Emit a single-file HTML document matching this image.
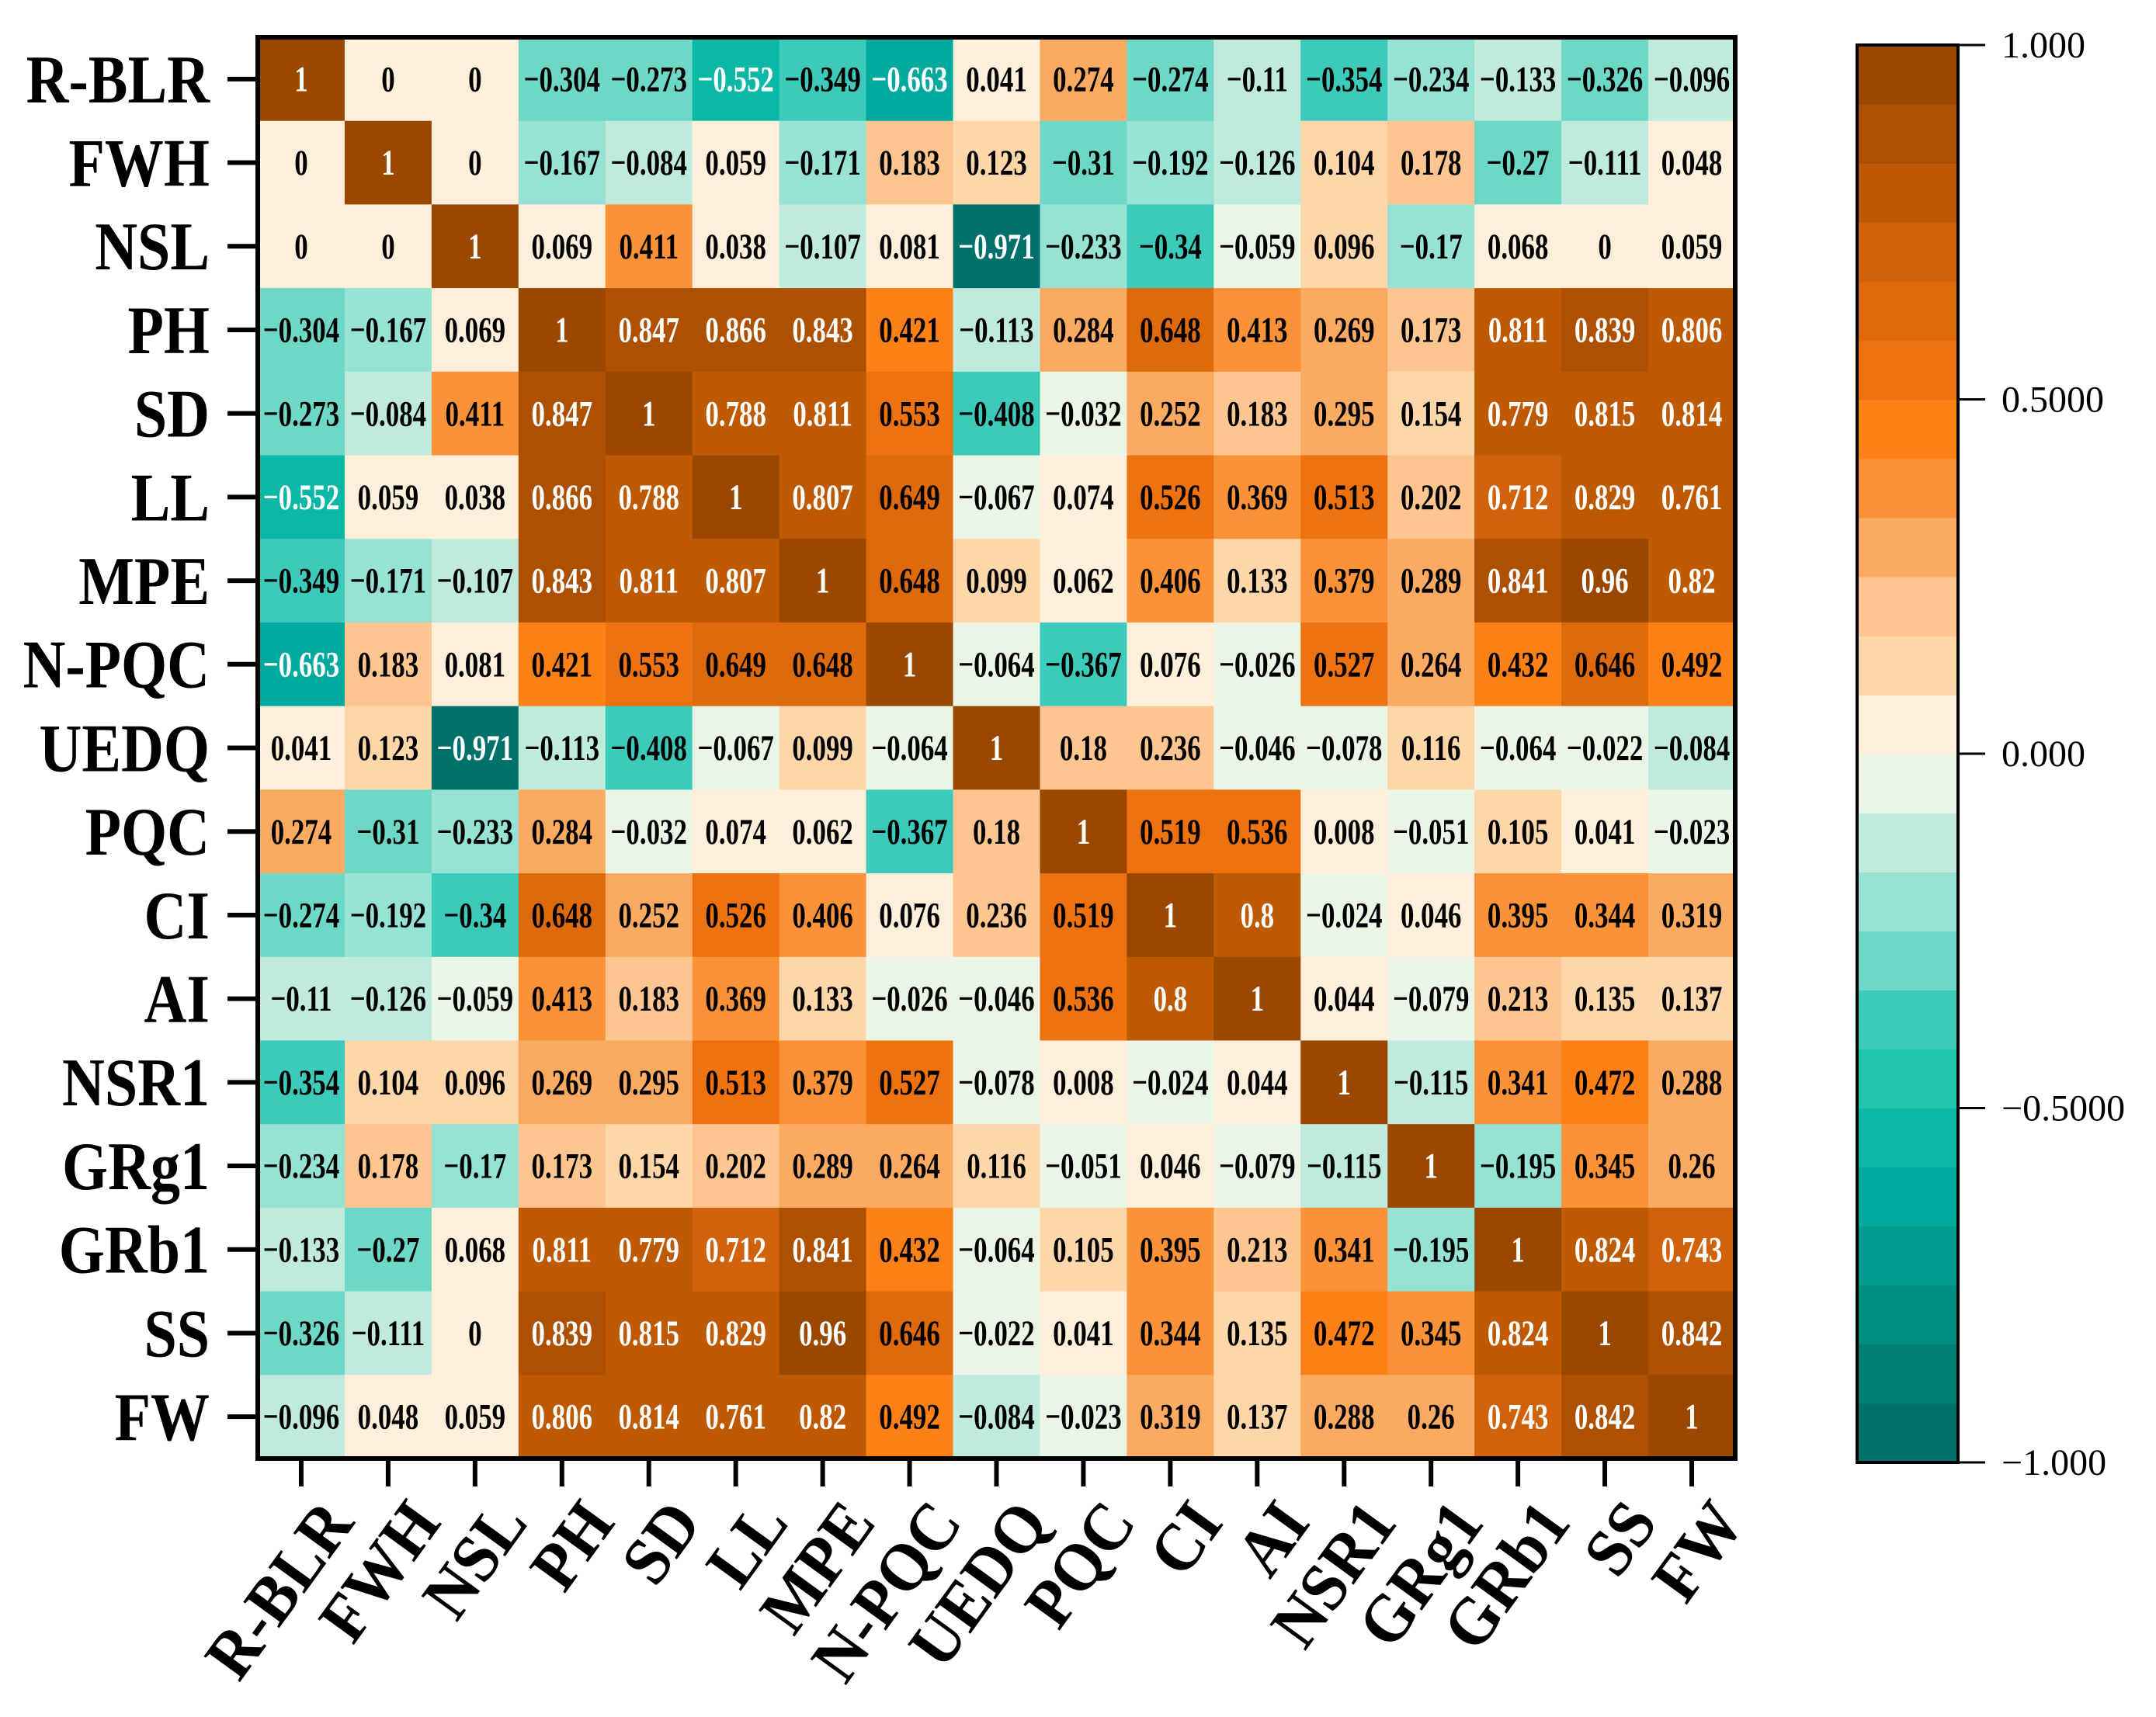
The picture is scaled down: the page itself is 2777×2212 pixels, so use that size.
<!DOCTYPE html>
<html><head><meta charset="utf-8"><style>
html,body{margin:0;padding:0;background:#fff;}
svg{display:block;font-family:"Liberation Serif",serif;}
</style></head><body>
<svg id="chart" width="2777" height="2212" viewBox="0 0 2777 2212" xmlns="http://www.w3.org/2000/svg">
<g id="cells"></g>
<g id="ylab"></g>
<g id="xlab"></g>
<g id="cbar"></g>
<rect x="332" y="48" width="1903" height="1831" fill="none" stroke="#000" stroke-width="6"/>
</svg>
<script>
const labels = ["R-BLR","FWH","NSL","PH","SD","LL","MPE","N-PQC","UEDQ","PQC","CI","AI","NSR1","GRg1","GRb1","SS","FW"];
const rowRBLR = [1,0,0,-0.304,-0.273,-0.552,-0.349,-0.663,0.041,0.274,-0.274,-0.11,-0.354,-0.234,-0.133,-0.326,-0.096];
const rowFWH = [0,1,0,-0.167,-0.084,0.059,-0.171,0.183,0.123,-0.31,-0.192,-0.126,0.104,0.178,-0.27,-0.111,0.048];
const rowNSL = [0,0,1,0.069,0.411,0.038,-0.107,0.081,-0.971,-0.233,-0.34,-0.059,0.096,-0.17,0.068,0,0.059];
const rowPH = [-0.304,-0.167,0.069,1,0.847,0.866,0.843,0.421,-0.113,0.284,0.648,0.413,0.269,0.173,0.811,0.839,0.806];
const rowSD = [-0.273,-0.084,0.411,0.847,1,0.788,0.811,0.553,-0.408,-0.032,0.252,0.183,0.295,0.154,0.779,0.815,0.814];
const rowLL = [-0.552,0.059,0.038,0.866,0.788,1,0.807,0.649,-0.067,0.074,0.526,0.369,0.513,0.202,0.712,0.829,0.761];
const rowMPE = [-0.349,-0.171,-0.107,0.843,0.811,0.807,1,0.648,0.099,0.062,0.406,0.133,0.379,0.289,0.841,0.96,0.82];
const rowNPQC = [-0.663,0.183,0.081,0.421,0.553,0.649,0.648,1,-0.064,-0.367,0.076,-0.026,0.527,0.264,0.432,0.646,0.492];
const rowUEDQ = [0.041,0.123,-0.971,-0.113,-0.408,-0.067,0.099,-0.064,1,0.18,0.236,-0.046,-0.078,0.116,-0.064,-0.022,-0.084];
const rowPQC = [0.274,-0.31,-0.233,0.284,-0.032,0.074,0.062,-0.367,0.18,1,0.519,0.536,0.008,-0.051,0.105,0.041,-0.023];
const rowCI = [-0.274,-0.192,-0.34,0.648,0.252,0.526,0.406,0.076,0.236,0.519,1,0.8,-0.024,0.046,0.395,0.344,0.319];
const rowAI = [-0.11,-0.126,-0.059,0.413,0.183,0.369,0.133,-0.026,-0.046,0.536,0.8,1,0.044,-0.079,0.213,0.135,0.137];
const rowNSR1 = [-0.354,0.104,0.096,0.269,0.295,0.513,0.379,0.527,-0.078,0.008,-0.024,0.044,1,-0.115,0.341,0.472,0.288];
const rowGRg1 = [-0.234,0.178,-0.17,0.173,0.154,0.202,0.289,0.264,0.116,-0.051,0.046,-0.079,-0.115,1,-0.195,0.345,0.26];
const rowGRb1 = [-0.133,-0.27,0.068,0.811,0.779,0.712,0.841,0.432,-0.064,0.105,0.395,0.213,0.341,-0.195,1,0.824,0.743];
const rowSS = [-0.326,-0.111,0,0.839,0.815,0.829,0.96,0.646,-0.022,0.041,0.344,0.135,0.472,0.345,0.824,1,0.842];
const rowFW = [-0.096,0.048,0.059,0.806,0.814,0.761,0.82,0.492,-0.084,-0.023,0.319,0.137,0.288,0.26,0.743,0.842,1];
const matrix = [rowRBLR,rowFWH,rowNSL,rowPH,rowSD,rowLL,rowMPE,rowNPQC,rowUEDQ,rowPQC,rowCI,rowAI,rowNSR1,rowGRg1,rowGRb1,rowSS,rowFW];
const cbarTicks = [1, 0.5, 0, -0.5, -1];
const cbarTickLabels = ["1.000","0.5000","0.000","\u22120.5000","\u22121.000"];

const palette = ["#00706a","#007e74","#008c80","#009b8c","#00a99d","#0bb7a5","#22c4ae","#3ccbbb","#6ed8c6","#96e2d4","#bfeadc","#ebf5e6",
"#fdefd9","#fdd6aa","#fdc690","#fbaa62","#fa9238","#fd8117","#ee7310","#df6a0b","#cf620a","#bd5a03","#ad5002","#9a4700"];

const NS = "http://www.w3.org/2000/svg";
const X0 = 332, X1 = 2235, Y0 = 48, Y1 = 1879;
const n = labels.length;
const cw = (X1 - X0) / n, ch = (Y1 - Y0) / n;
function xPos(i){ return X0 + i * cw; }
function yPos(j){ return Y0 + j * ch; }
function colorFor(v){ let k = Math.floor((v + 1) * 12); if (k < 0) k = 0; if (k > 23) k = 23; return palette[k]; }
function fmt(v){ return v < 0 ? "\u2212" + String(-v) : String(v); }
function mk(tag, attrs, parent){ const e = document.createElementNS(NS, tag); for (const k in attrs) e.setAttribute(k, attrs[k]); parent.appendChild(e); return e; }

const cells = document.getElementById("cells");
matrix.forEach((row, j) => {
  row.forEach((v, i) => {
    const r = mk("rect", {x: xPos(i), y: yPos(j), width: cw + 0.8, height: ch + 0.8, fill: colorFor(v)}, cells);
    
    
  });
});
matrix.forEach((row, j) => {
  row.forEach((v, i) => {
    const cx = xPos(i) + cw / 2, cy = yPos(j) + ch / 2;
    const t = mk("text", {x: 0, y: 12, "text-anchor": "middle", "font-size": 36, "font-weight": "bold", fill: (v >= 0.7 || v <= -0.5) ? "#fff" : "#000", transform: "translate(" + cx + " " + cy + ") scale(0.97 1.3)"}, cells);
    t.textContent = fmt(v);
    
    
  });
});

const ylab = document.getElementById("ylab");
labels.forEach((lab, j) => {
  const cy = yPos(j) + ch / 2;
  const tk = mk("line", {x1: 293, x2: X0, y1: cy, y2: cy, stroke: "#000", "stroke-width": 6}, ylab);
  
  
  const t = mk("text", {x: 0, y: 26, "text-anchor": "end", "font-size": 76, "font-weight": "bold", transform: "translate(270 " + cy + ") scale(1 1.15)"}, ylab);
  t.textContent = lab;
  
  
});

const xlab = document.getElementById("xlab");
labels.forEach((lab, i) => {
  const cx = xPos(i) + cw / 2;
  const tk = mk("line", {x1: cx, x2: cx, y1: Y1, y2: 1915, stroke: "#000", "stroke-width": 6}, xlab);
  
  
  const ax = cx + 70, ay = 1962;
  const t = mk("text", {x: 0, y: 0, "text-anchor": "end", "font-size": 76, "font-weight": "bold", transform: "translate(" + ax + " " + ay + ") rotate(-54) scale(1.08 1.15)"}, xlab);
  t.textContent = lab;
  
  
});

const cbar = document.getElementById("cbar");
const CB0 = 2392, CB1 = 2522, CT = 58, CBt = 1884;
function cbY(v){ return CT + (1 - v) / 2 * (CBt - CT); }
palette.forEach((c, k) => {
  const vTop = -1 + (k + 1) / 12, vBot = -1 + k / 12;
  const r = mk("rect", {x: CB0, y: cbY(vTop), width: CB1 - CB0, height: cbY(vBot) - cbY(vTop) + 0.8, fill: c}, cbar);
  
  
});
const cbf = mk("rect", {x: CB0, y: CT, width: CB1 - CB0, height: CBt - CT, fill: "none", stroke: "#000", "stroke-width": 4}, cbar);


cbarTicks.forEach((v, k) => {
  const y = cbY(v);
  const tk = mk("line", {x1: CB1, x2: 2557, y1: y, y2: y, stroke: "#000", "stroke-width": 3}, cbar);
  
  
  const t = mk("text", {x: 2578, y: y + 16, "font-size": 48}, cbar);
  t.textContent = cbarTickLabels[k];
  
  
});
</script>
</body></html>
